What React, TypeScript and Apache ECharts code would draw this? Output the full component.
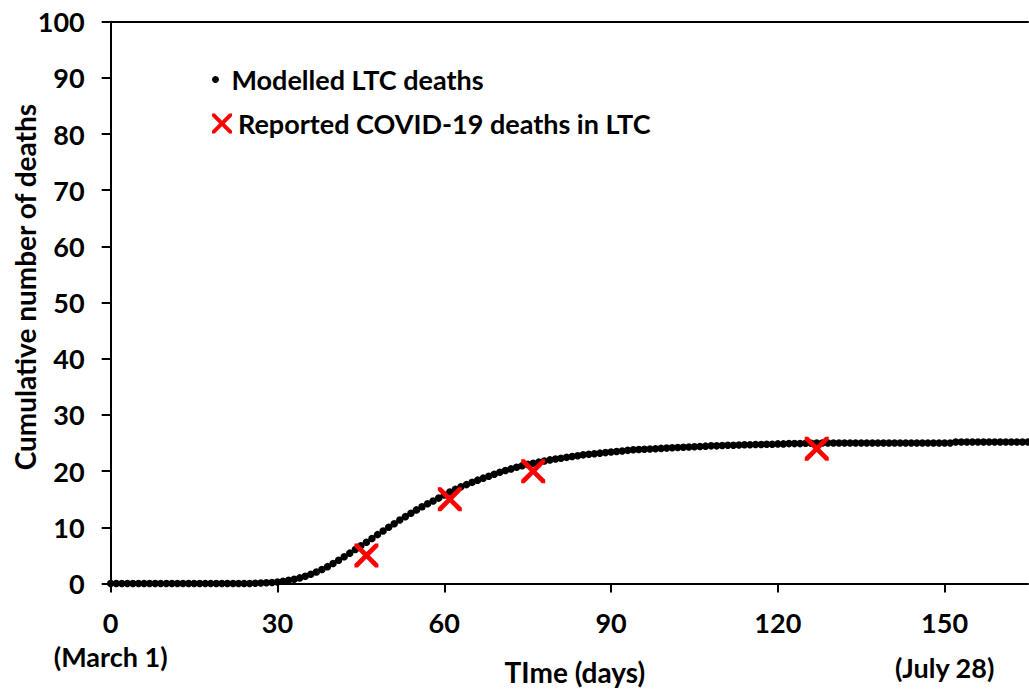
import React, { useEffect, useRef } from "react";
import * as echarts from "echarts";

// Modelled cumulative LTC deaths, one value per day from day 0 to day 165
const modelledDeaths: number[] = [
  // days 0-25
  0, 0, 0, 0, 0, 0, 0, 0, 0, 0, 0, 0, 0, 0, 0, 0, 0, 0, 0, 0, 0, 0, 0, 0, 0, 0,
  // days 26-45
  0.05, 0.08, 0.12, 0.18, 0.27, 0.4, 0.56, 0.76, 1.0, 1.3, 1.65, 2.05, 2.5, 3.0, 3.55, 4.15, 4.75, 5.4, 6.05, 6.7,
  // days 46-65
  7.35, 8.0, 8.7, 9.35, 10.0, 10.65, 11.3, 11.9, 12.5, 13.1, 13.65, 14.2, 14.7, 15.2, 15.75, 16.3, 16.75, 17.2, 17.6, 18.0,
  // days 66-85
  18.4, 18.75, 19.1, 19.45, 19.8, 20.1, 20.4, 20.7, 20.95, 21.2, 21.4, 21.6, 21.8, 22.0, 22.15, 22.3, 22.45, 22.6, 22.75, 22.9,
  // days 86-105
  23.0, 23.1, 23.2, 23.3, 23.4, 23.5, 23.6, 23.7, 23.8, 23.85, 23.9, 23.95, 24.0, 24.05, 24.1, 24.15, 24.2, 24.25, 24.3, 24.35,
  // days 106-125
  24.4, 24.45, 24.5, 24.5, 24.55, 24.6, 24.6, 24.65, 24.7, 24.7, 24.75, 24.75, 24.8, 24.8, 24.85, 24.85, 24.9, 24.9, 24.9, 24.95,
  // days 126-145
  24.95, 25.0, 25.0, 25.0, 25.0, 25.0, 25.0, 25.0, 25.0, 25.0, 25.0, 25.0, 25.0, 25.0, 25.0, 25.0, 25.0, 25.0, 25.0, 25.0,
  // days 146-165
  25.0, 25.0, 25.0, 25.0, 25.0, 25.0, 25.2, 25.2, 25.2, 25.2, 25.2, 25.2, 25.2, 25.2, 25.2, 25.2, 25.2, 25.2, 25.2, 25.2,
];

const reportedDays: number[] = [46, 61, 76, 127];
const reportedDeaths: number[] = [5, 15, 20, 24];

const xTickNotes: Record<number, string> = { 0: "(March 1)", 150: "(July 28)" };

const seriesNames = ["Modelled LTC deaths", "Reported COVID-19 deaths in LTC"];
const xAxisTitle = "TIme (days)";
const yAxisTitle = "Cumulative number of deaths";

const FONT = "Lato, 'Open Sans', sans-serif";
const FS = 27;
const CROSS =
  "path://M0,0 L2.8,0 L10,7.2 L17.2,0 L20,0 L20,2.8 L12.8,10 L20,17.2 L20,20 L17.2,20 L10,12.8 L2.8,20 L0,20 L0,17.2 L7.2,10 L0,2.8 Z";

export default function App() {
  const ref = useRef<HTMLDivElement>(null);

  useEffect(() => {
    if (!ref.current) return;
    const chart = echarts.init(ref.current, null, { renderer: "svg" });

    const modelledData = modelledDeaths.map((v, i) => [i, v]);
    const reportedData = reportedDays.map((d, i) => [d, reportedDeaths[i]]);

    const legendText = { fontSize: FS, fontWeight: "bold", color: "#000", fontFamily: FONT };

    chart.setOption({
      animation: false,
      backgroundColor: "#ffffff",
      textStyle: { fontFamily: FONT },
      grid: {
        left: 110.7,
        right: 1,
        top: 21.7,
        bottom: 108.5,
        containLabel: false,
        outerBoundsMode: "none",
      },
      legend: [
        {
          data: [{ name: seriesNames[0], icon: "circle" }],
          left: 207,
          top: 61,
          itemWidth: 22,
          itemHeight: 7,
          selectedMode: false,
          textStyle: legendText,
        },
        {
          data: [{ name: seriesNames[1], icon: CROSS }],
          left: 207,
          top: 105,
          itemWidth: 22,
          itemHeight: 20,
          selectedMode: false,
          textStyle: legendText,
        },
      ],
      xAxis: [
        {
          type: "value",
          position: "bottom",
          min: 0,
          max: 165,
          interval: 30,
          name: xAxisTitle,
          nameLocation: "middle",
          nameGap: 74,
          nameMoveOverlap: false,
          nameTextStyle: {
            fontSize: 28,
            fontWeight: "bold",
            color: "#000",
            fontFamily: FONT,
            padding: [0, 0, 0, 11],
          },
          axisLine: { show: true, onZero: false, lineStyle: { color: "#000", width: 2 } },
          axisTick: { show: true, inside: false, length: 9, lineStyle: { color: "#000", width: 2 } },
          splitLine: { show: false },
          axisLabel: {
            margin: 24,
            color: "#000",
            showMaxLabel: false,
            hideOverlap: false,
            formatter: (v: number) => {
              const note = xTickNotes[v];
              if (note !== undefined) {
                return `{n|${v}}\n{${v === 0 ? "m" : "j"}|${note}}`;
              }
              return `{n|${v}}`;
            },
            rich: {
              n: { fontSize: FS, fontWeight: "bold", color: "#000", fontFamily: FONT, lineHeight: 30 },
              m: { fontSize: FS, fontWeight: "bold", color: "#000", fontFamily: FONT, lineHeight: 38 },
              j: { fontSize: FS, fontWeight: "bold", color: "#000", fontFamily: FONT, lineHeight: 60 },
            },
          },
        },
        {
          type: "value",
          position: "top",
          min: 0,
          max: 165,
          interval: 30,
          axisLine: { show: true, onZero: false, lineStyle: { color: "#000", width: 2 } },
          axisTick: { show: false },
          axisLabel: { show: false },
          splitLine: { show: false },
        },
      ],
      yAxis: {
        type: "value",
        min: 0,
        max: 100,
        interval: 10,
        name: yAxisTitle,
        nameLocation: "middle",
        nameGap: 72,
        nameMoveOverlap: false,
        nameTextStyle: {
          fontSize: 28,
          fontWeight: "bold",
          color: "#000",
          fontFamily: FONT,
          padding: [0, 0, 0, 31],
        },
        axisLine: { show: true, onZero: false, lineStyle: { color: "#000", width: 2 } },
        axisTick: { show: true, inside: false, length: 9, lineStyle: { color: "#000", width: 2 } },
        splitLine: { show: false },
        axisLabel: { margin: 26, fontSize: FS, fontWeight: "bold", color: "#000", fontFamily: FONT },
      },
      series: [
        {
          name: seriesNames[0],
          type: "scatter",
          xAxisIndex: 0,
          data: modelledData,
          symbol: "circle",
          symbolSize: 7.5,
          itemStyle: { color: "#000", opacity: 1 },
          z: 3,
        },
        {
          name: seriesNames[1],
          type: "scatter",
          xAxisIndex: 0,
          data: reportedData,
          symbol: CROSS,
          symbolSize: 24,
          itemStyle: { color: "#ff0000", opacity: 1 },
          z: 4,
        },
      ],
    });

    return () => {
      chart.dispose();
    };
  }, []);

  return (
    <div
      ref={ref}
      style={{ position: "absolute", left: 0, top: 0, width: 1029, height: 692 }}
    />
  );
}
